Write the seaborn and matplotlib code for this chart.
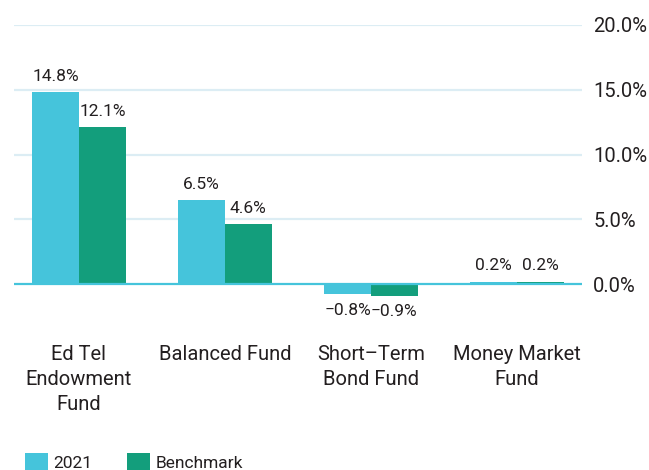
import matplotlib.pyplot as plt
import pandas as pd
import seaborn as sns


# Data
funds = ["Ed Tel\nEndowment\nFund", "Balanced Fund", "Short\u2013Term\nBond Fund", "Money Market\nFund"]
returns_2021 = [14.8, 6.5, -0.8, 0.2]
returns_benchmark = [12.1, 4.6, -0.9, 0.2]
series_names = ["2021", "Benchmark"]
y_ticks = [0, 5, 10, 15, 20]

df = pd.DataFrame({
    "fund": funds * 2,
    "series": [series_names[0]] * len(funds) + [series_names[1]] * len(funds),
    "value": returns_2021 + returns_benchmark,
})

sns.set_style("white")
plt.rcParams['font.family'] = ['Roboto', 'DejaVu Sans']
text_color = "#231f20"

fig = plt.figure(figsize=(6.49, 4.70), dpi=100)
ax = fig.add_axes([14 / 649, 1 - 310 / 470, 568 / 649, 285 / 470])

sns.barplot(df, x="fund", y="value", hue="series", ax=ax, width=0.64,
            palette=["#45c4db", "#139e7c"], saturation=1, legend=True,
            linewidth=0, edgecolor="none", zorder=3)

# Gridlines and zero line
for t in y_ticks[1:]:
    ax.axhline(t, color="#dcedf4", lw=1.6, zorder=1)
ax.axhline(0, color="#45c4db", lw=1.6, zorder=4)

ax.set_xlim(-0.445, 3.445)
ax.set_ylim(-2, 20)
ax.set_yticks(y_ticks)
ax.set_yticklabels([f"{t:.1f}%" for t in y_ticks])
ax.yaxis.tick_right()
ax.tick_params(axis="y", length=0, pad=8, labelsize=14.5, labelcolor=text_color)
ax.tick_params(axis="x", length=0, pad=25, labelsize=14.5, labelcolor=text_color)
for lbl in ax.get_xticklabels():
    lbl.set_linespacing(1.4)
ax.set_xlabel("")
ax.set_ylabel("")
sns.despine(ax=ax, left=True, bottom=True, right=True, top=True)

# Bar value labels
for container in ax.containers:
    ax.bar_label(container, fmt="%.1f%%", padding=6, fontsize=12.5, color=text_color)
for txt in ax.texts:
    txt.set_text(txt.get_text().replace("-", "\u2212"))

# Legend at bottom left
handles, labels = ax.get_legend_handles_labels()
ax.legend(handles, labels, loc="upper left", bbox_to_anchor=(25 / 649, 1 - 453 / 470),
          bbox_transform=fig.transFigure, ncol=2, frameon=False, fontsize=12.5,
          handlelength=1.3, handleheight=1.2, handletextpad=0.35, columnspacing=2.0,
          borderpad=0, borderaxespad=0, labelcolor=text_color)

fig.savefig("out.png", dpi=100)
